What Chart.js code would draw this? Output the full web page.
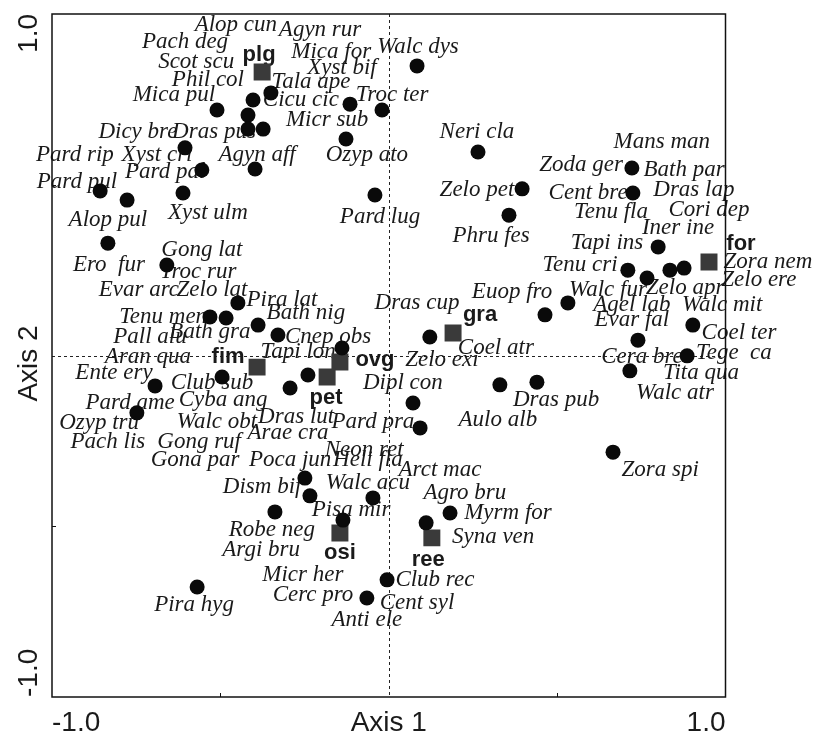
<!DOCTYPE html>
<html>
<head>
<meta charset="utf-8">
<title>Ordination diagram – species and sites</title>
<script src="https://cdn.jsdelivr.net/npm/chart.js@4/dist/chart.umd.min.js"></script>
<style>
  html, body { margin: 0; padding: 0; background: #ffffff; }
  #wrap { width: 814px; height: 733px; }
</style>
</head>
<body>
<div id="wrap"><canvas id="ord" width="814" height="733"></canvas></div>
<script>
// ---- species scores (axis 1, axis 2) ----
const speciesX = [
  0.084, -0.350, -0.403, -0.510, -0.418, -0.418, -0.373, -0.115, -0.020, -0.127,
  0.265, -0.605, -0.555, -0.397, -0.857, -0.777, -0.611, -0.041, 0.396, 0.357,
  0.722, 0.725, 0.800, -0.834, -0.659, 0.710, 0.767, 0.835, 0.877, 0.532,
  0.464, 0.903, 0.740, 0.886, 0.716, -0.448, -0.531, -0.483, -0.388, -0.329,
  -0.139, -0.495, -0.694, -0.748, -0.240, -0.293, 0.122, 0.330, 0.440, 0.072,
  0.093, 0.666, -0.249, -0.234, -0.047, -0.338, -0.136, 0.111, 0.182, -0.005,
  -0.065, -0.569
];
const speciesY = [
  0.848, 0.769, 0.748, 0.719, 0.704, 0.663, 0.663, 0.736, 0.719, 0.634,
  0.596, 0.608, 0.543, 0.546, 0.482, 0.455, 0.476, 0.470, 0.488, 0.411,
  0.549, 0.476, 0.318, 0.329, 0.265, 0.250, 0.227, 0.250, 0.256, 0.154,
  0.119, 0.089, 0.045, -0.001, -0.045, 0.154, 0.113, 0.110, 0.089, 0.060,
  0.022, -0.063, -0.089, -0.168, -0.057, -0.095, 0.054, -0.086, -0.078, -0.139,
  -0.212, -0.283, -0.359, -0.411, -0.417, -0.458, -0.482, -0.490, -0.461, -0.657,
  -0.710, -0.678
];

// ---- species name labels and where they sit (axis units) ----
const speciesNames = [
  'Alop cun', 'Agyn rur', 'Pach deg', 'Scot scu', 'Mica for', 'Walc dys', 'Xyst bif', 'Phil col',
  'Tala ape', 'Mica pul', 'Cicu cic', 'Troc ter', 'Micr sub', 'Dicy bre', 'Dras pus', 'Neri cla',
  'Pard rip', 'Xyst cri', 'Agyn aff', 'Ozyp ato', 'Pard pal', 'Pard pul', 'Mans man', 'Zoda ger',
  'Bath par', 'Cent bre', 'Dras lap', 'Zelo pet', 'Pard lug', 'Xyst ulm', 'Alop pul', 'Phru fes',
  'Tenu fla', 'Cori dep', 'Iner ine', 'Tapi ins', 'Gong lat', 'Ero  fur', 'Troc rur', 'Tenu cri',
  'Zora nem', 'Zelo ere', 'Evar arc', 'Zelo lat', 'Pira lat', 'Dras cup', 'Euop fro', 'Walc fur',
  'Zelo apr', 'Agel lab', 'Walc mit', 'Tenu men', 'Bath nig', 'Evar fal', 'Coel ter', 'Pall alu',
  'Bath gra', 'Cnep obs', 'Coel atr', 'Aran qua', 'Tapi lon', 'Zelo exi', 'Cera bre', 'Tege  ca',
  'Ente ery', 'Club sub', 'Dipl con', 'Tita qua', 'Cyba ang', 'Pard ame', 'Dras pub', 'Walc atr',
  'Ozyp tru', 'Walc obt', 'Dras lut', 'Pard pra', 'Aulo alb', 'Arae cra', 'Pach lis', 'Gong ruf',
  'Neon ret', 'Gona par', 'Poca jun', 'Heli fla', 'Arct mac', 'Zora spi', 'Walc acu', 'Dism bif',
  'Agro bru', 'Pisa mir', 'Myrm for', 'Robe neg', 'Syna ven', 'Argi bru', 'Micr her', 'Club rec',
  'Cerc pro', 'Cent syl', 'Pira hyg', 'Anti ele'
];
const speciesLabelX = [
  -0.454, -0.204, -0.605, -0.572, -0.171, 0.087, -0.139, -0.537,
  -0.231, -0.638, -0.261, 0.010, -0.183, -0.745, -0.519, 0.262,
  -0.932, -0.688, -0.391, -0.065, -0.664, -0.926, 0.811, 0.571,
  0.877, 0.592, 0.906, 0.262, -0.026, -0.537, -0.834, 0.304,
  0.660, 0.951, 0.859, 0.648, -0.555, -0.831, -0.566, 0.568,
  1.126, 1.099, -0.742, -0.525, -0.317, 0.084, 0.366, 0.651,
  0.880, 0.722, 0.990, -0.670, -0.246, 0.722, 1.040, -0.709,
  -0.531, -0.180, 0.318, -0.715, -0.269, 0.158, 0.752, 1.025,
  -0.816, -0.525, 0.042, 0.927, -0.492, -0.768, 0.497, 0.850,
  -0.860, -0.510, -0.275, -0.047, 0.324, -0.299, -0.834, -0.563,
  -0.073, -0.575, -0.293, -0.062, 0.152, 0.806, -0.062, -0.376,
  0.226, -0.112, 0.354, -0.347, 0.310, -0.379, -0.255, 0.137,
  -0.225, 0.084, -0.578, -0.065
];
const speciesLabelY = [
  0.968, 0.953, 0.918, 0.859, 0.889, 0.903, 0.842, 0.807,
  0.801, 0.763, 0.748, 0.763, 0.690, 0.654, 0.654, 0.654,
  0.587, 0.587, 0.587, 0.587, 0.537, 0.508, 0.625, 0.558,
  0.543, 0.476, 0.485, 0.485, 0.406, 0.417, 0.397, 0.350,
  0.420, 0.426, 0.373, 0.329, 0.309, 0.265, 0.245, 0.265,
  0.274, 0.221, 0.192, 0.192, 0.163, 0.154, 0.186, 0.192,
  0.198, 0.148, 0.148, 0.113, 0.124, 0.104, 0.066, 0.054,
  0.069, 0.054, 0.022, -0.004, 0.010, -0.013, -0.004, 0.007,
  -0.051, -0.081, -0.081, -0.051, -0.130, -0.139, -0.130, -0.110,
  -0.198, -0.195, -0.180, -0.195, -0.189, -0.227, -0.253, -0.253,
  -0.277, -0.306, -0.306, -0.306, -0.335, -0.335, -0.373, -0.385,
  -0.403, -0.452, -0.461, -0.511, -0.531, -0.570, -0.643, -0.657,
  -0.701, -0.725, -0.731, -0.775
];

// ---- site (habitat) scores and their labels ----
const siteNames = ['plg', 'for', 'gra', 'fim', 'ovg', 'pet', 'osi', 'ree'];
const siteX = [-0.376, 0.951, 0.191, -0.391, -0.145, -0.183, -0.145, 0.128];
const siteY = [0.830, 0.274, 0.066, -0.034, -0.019, -0.063, -0.520, -0.534];
const siteLabelX = [-0.385, 1.046, 0.271, -0.477, -0.041, -0.186, -0.145, 0.117];
const siteLabelY = [0.880, 0.327, 0.119, -0.004, -0.013, -0.124, -0.578, -0.599];

// ---- axes ----
const axisRange = [-1, 1];
const labelledTicks = [-1, 1];
const labelledTickText = ['-1.0', '1.0'];
const minorTicks = [-0.5, 0.5];
const axisTitles = ['Axis 1', 'Axis 2'];

const speciesPoints = speciesX.map((x, i) => ({ x, y: speciesY[i] }));
const sitePoints = siteX.map((x, i) => ({ x, y: siteY[i] }));

const SANS = '"Liberation Sans", Arial, sans-serif';
const SERIF = '"Liberation Serif", "Times New Roman", serif';

// Zero lines, name labels, frame, ticks and axis titles.
const ordinationDecor = {
  id: 'ordinationDecor',
  beforeDatasetsDraw(chart) {
    const { ctx, chartArea: a, scales: { x, y } } = chart;
    ctx.save();
    // dashed zero lines
    ctx.strokeStyle = '#222';
    ctx.lineWidth = 1;
    ctx.setLineDash([3, 3]);
    const x0 = Math.round(x.getPixelForValue(0)) + 0.5;
    const y0 = Math.round(y.getPixelForValue(0)) + 0.5;
    ctx.beginPath();
    ctx.moveTo(x0, a.top); ctx.lineTo(x0, a.bottom);
    ctx.moveTo(a.left, y0); ctx.lineTo(a.right, y0);
    ctx.stroke();
    ctx.setLineDash([]);

    // species names
    ctx.fillStyle = '#1a1a1a';
    ctx.textAlign = 'center';
    ctx.textBaseline = 'middle';
    ctx.font = 'italic 23px ' + SERIF;
    speciesNames.forEach((name, i) => {
      ctx.fillText(name, x.getPixelForValue(speciesLabelX[i]), y.getPixelForValue(speciesLabelY[i]));
    });

    // site names
    ctx.font = 'bold 22px ' + SANS;
    siteNames.forEach((name, i) => {
      ctx.fillText(name, x.getPixelForValue(siteLabelX[i]), y.getPixelForValue(siteLabelY[i]));
    });
    ctx.restore();
  },
  afterDatasetsDraw(chart) {
    const { ctx, chartArea: a, scales: { x, y } } = chart;
    ctx.save();
    // frame
    ctx.strokeStyle = '#111';
    ctx.lineWidth = 1.5;
    ctx.strokeRect(a.left, a.top, a.right - a.left, a.bottom - a.top);

    // inward minor ticks on the bottom and left axes
    ctx.lineWidth = 1;
    ctx.beginPath();
    minorTicks.forEach(v => {
      const px = Math.round(x.getPixelForValue(v)) + 0.5;
      ctx.moveTo(px, a.bottom); ctx.lineTo(px, a.bottom - 4);
      const py = Math.round(y.getPixelForValue(v)) + 0.5;
      ctx.moveTo(a.left, py); ctx.lineTo(a.left + 4, py);
    });
    ctx.stroke();

    ctx.fillStyle = '#1a1a1a';
    ctx.font = '28px ' + SANS;
    ctx.textBaseline = 'alphabetic';

    // x tick labels, flush with the ends of the axis
    labelledTicks.forEach((v, i) => {
      ctx.textAlign = v < 0 ? 'left' : 'right';
      ctx.fillText(labelledTickText[i], x.getPixelForValue(v), 731);
    });
    ctx.textAlign = 'center';
    ctx.fillText(axisTitles[0], x.getPixelForValue(0), 731);

    // y tick labels and title, reading upwards
    const yText = (text, py, align) => {
      ctx.save();
      ctx.translate(37, py);
      ctx.rotate(-Math.PI / 2);
      ctx.textAlign = align;
      ctx.fillText(text, 0, 0);
      ctx.restore();
    };
    labelledTicks.forEach((v, i) => {
      yText(labelledTickText[i], y.getPixelForValue(v), v < 0 ? 'left' : 'right');
    });
    yText(axisTitles[1], y.getPixelForValue(0) + 8, 'center');
    ctx.restore();
  }
};

new Chart(document.getElementById('ord'), {
  type: 'scatter',
  data: {
    datasets: [
      {
        label: 'species',
        data: speciesPoints,
        backgroundColor: '#0a0a0a',
        borderWidth: 0,
        pointRadius: 7.5,
        pointHoverRadius: 7.5
      },
      {
        label: 'sites',
        data: sitePoints,
        pointStyle: 'rect',
        backgroundColor: '#3a3a3a',
        borderWidth: 0,
        pointRadius: 12,
        pointHoverRadius: 12
      }
    ]
  },
  options: {
    responsive: false,
    animation: false,
    devicePixelRatio: 1,
    layout: { padding: { left: 52, top: 14, right: 88.5, bottom: 36 } },
    scales: {
      x: { type: 'linear', min: axisRange[0], max: axisRange[1], display: false },
      y: { type: 'linear', min: axisRange[0], max: axisRange[1], display: false }
    },
    plugins: { legend: { display: false }, tooltip: { enabled: false } }
  },
  plugins: [ordinationDecor]
});
</script>
</body>
</html>
